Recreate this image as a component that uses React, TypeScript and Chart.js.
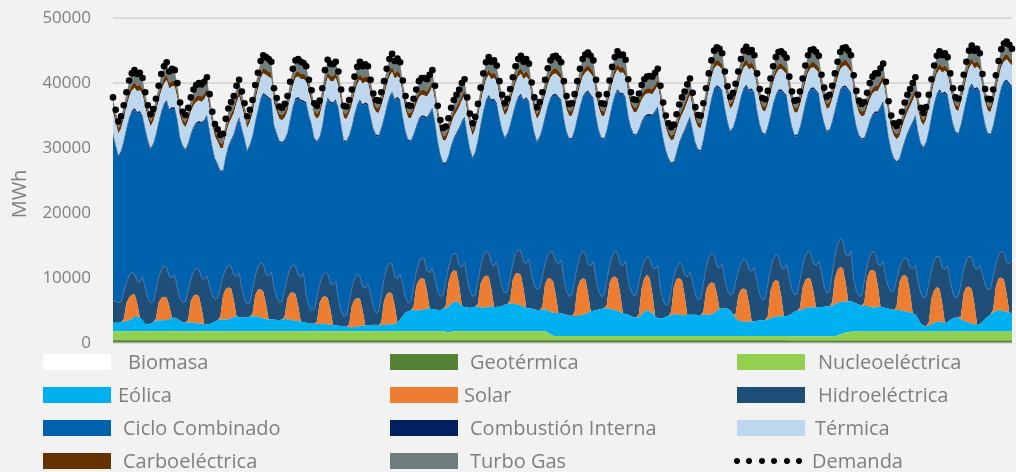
import React, { useEffect, useRef } from 'react';
import { Chart, registerables } from 'chart.js';

Chart.register(...registerables);

// 28 days, one value every 2 hours
const dayNumbers = [1,2,3,4,5,6,7,8,9,10,11,12,13,14,15,16,17,18,19,20,21,22,23,24,25,26,27,28];
const hourLabels = ['00','02','04','06','08','10','12','14','16','18','20','22'];
const yTickValues = [0, 10000, 20000, 30000, 40000, 50000];

const biomasa: number[] = [];

const geotermica = [
400,400,400,400,400,400,400,400,400,400,400,400,
400,400,400,400,400,400,400,400,400,400,400,400,
400,400,400,400,400,400,400,400,400,400,400,400,
400,400,400,400,400,400,400,400,400,400,400,400,
400,400,400,400,400,400,400,400,400,400,400,400,
400,400,400,400,400,400,400,400,400,400,400,400,
400,400,400,400,400,400,400,400,400,400,400,400,
390,390,390,390,390,390,390,390,390,390,390,390,
390,390,390,390,390,390,390,390,390,390,390,390,
390,390,390,390,390,390,390,390,390,390,390,390,
390,390,390,390,390,390,390,390,390,390,390,390,
390,390,390,390,390,390,390,390,390,390,390,390,
390,390,390,390,390,390,390,390,390,390,390,390,
390,390,390,390,390,390,390,390,390,390,390,390,
380,380,380,380,380,380,380,380,380,380,380,380,
380,380,380,380,380,380,380,380,380,380,380,380,
380,380,380,380,380,380,380,380,380,380,380,380,
380,380,380,380,380,380,380,380,380,380,380,380,
380,380,380,380,380,380,380,380,380,380,380,380,
380,380,380,380,380,380,380,380,380,380,380,380,
380,380,380,380,380,380,380,380,380,380,380,380,
370,370,370,370,370,370,370,370,370,370,370,370,
370,370,370,370,370,370,370,370,370,370,370,370,
370,370,370,370,370,370,370,370,370,370,370,370,
370,370,370,370,370,370,370,370,370,370,370,370,
370,370,370,370,370,370,370,370,370,370,370,370,
370,370,370,370,370,370,370,370,370,370,370,370,
370,370,370,370,370,370,370,370,370,370,370,370,
];

const nucleoelectrica = [
1380,1380,1380,1380,1380,1380,1380,1380,1380,1380,1380,1380,
1380,1380,1380,1380,1380,1380,1380,1380,1380,1380,1380,1380,
1380,1380,1380,1380,1380,1380,1380,1380,1380,1380,1380,1380,
1380,1380,1380,1380,1380,1380,1380,1380,1380,1380,1380,1380,
1380,1380,1380,1380,1380,1380,1380,1380,1380,1380,1380,1380,
1380,1380,1380,1380,1380,1380,1380,1380,1380,1380,1380,1380,
1380,1380,1380,1380,1380,1380,1380,1380,1380,1380,1380,1380,
1380,1380,1380,1380,1380,1380,1380,1380,1380,1380,1380,1380,
1380,1380,1380,1380,1380,1380,1380,1380,1380,1380,1380,1380,
1380,1380,1380,1380,1380,1380,1380,1380,1380,1380,1380,1380,
1380,1380,1380,1380,1300,1250,1300,1380,1380,1380,1380,1380,
1380,1380,1380,1380,1380,1380,1380,1380,1380,1380,1380,1380,
1380,1380,1380,1380,1380,1380,1380,1380,1380,1380,1380,1380,
1380,1380,1380,1380,1380,1380,1200,900,700,650,650,650,
650,650,650,650,650,650,650,650,650,650,650,650,
650,650,650,650,650,650,650,650,650,650,650,650,
650,650,650,650,650,650,650,650,650,650,650,650,
650,650,650,650,650,650,650,650,650,650,650,650,
650,650,650,650,650,650,650,650,650,650,650,650,
650,650,650,650,650,650,650,650,650,650,650,650,
650,650,650,650,650,650,650,650,650,650,650,650,
650,650,650,650,650,650,650,650,650,650,650,650,
650,650,650,650,650,650,750,900,1050,1200,1300,1350,
1380,1380,1380,1380,1380,1380,1380,1380,1380,1380,1380,1380,
1380,1380,1380,1380,1380,1380,1380,1380,1380,1380,1380,1380,
1380,1380,1380,1380,1380,1380,1380,1380,1380,1380,1380,1380,
1380,1380,1380,1380,1380,1380,1380,1380,1380,1380,1380,1380,
1380,1380,1380,1380,1380,1380,1380,1380,1380,1380,1380,1380,
];

const eolica = [
1300,1300,1300,1350,1500,1550,1700,1900,2200,2300,2100,1700,
1100,1050,1200,1400,1600,1700,1700,1700,1750,1900,2050,2100,
1900,1600,1400,1300,1300,1350,1300,1250,1200,1150,1100,1050,
1100,1300,1500,1700,1800,1800,1800,1850,1950,2200,2300,2200,
2100,2100,2200,2250,2300,2300,2250,2100,2000,1850,1800,1800,
1800,1750,1750,1800,1900,1850,1800,1700,1600,1550,1500,1400,
1300,1250,1200,1150,1100,1100,1150,1100,1050,1000,950,900,
850,800,750,700,650,600,650,700,800,850,900,950,
950,1000,1000,950,950,1000,1050,1100,1100,1150,1300,1800,
2400,2900,3100,3200,3300,3250,3200,3300,3400,3500,3500,3400,
3400,3300,3300,3400,3600,3900,4300,4500,4600,4300,3900,3700,
3700,3600,3700,3800,3800,3700,3600,3700,3800,3800,3700,3800,
3800,3900,4100,4200,4300,4300,4200,4100,4000,3800,3600,3500,
3500,3400,3300,3300,3300,3400,3450,3500,3500,3550,3550,3500,
3400,3300,3200,3100,3100,3100,3200,3300,3400,3600,3800,3900,
4000,4100,4200,4300,4300,4200,4100,4000,3900,3700,3500,3400,
3300,3100,2900,2850,2900,3300,3800,4000,3800,3500,3100,2800,
2700,2800,3000,3100,3200,3300,3400,3300,3200,3200,3300,3300,
3300,3300,3250,3250,3300,3300,3300,3350,3500,3900,4200,4300,
4300,4200,4000,3400,2800,2400,2300,2250,2200,2200,2250,2300,
2350,2400,2450,2500,2550,2700,2900,3000,3050,3050,3050,3100,
3200,3500,3800,3900,3950,4100,4300,4400,4400,4400,4450,4500,
4500,4550,4600,4600,4700,4900,5000,5000,4900,4800,4700,4700,
4500,4300,4100,4000,3900,3900,3800,3700,3700,3800,3800,3700,
3600,3500,3400,3300,3300,3300,3200,3100,3000,2900,2800,2600,
2000,1200,900,800,900,1100,1300,1500,1500,1400,1300,1400,
1800,2000,2200,2100,1900,1700,1500,1300,1200,1100,1000,1100,
1500,1900,2300,2600,2900,3100,3300,3200,3100,3000,2900,2800,
];

const solar = [
0,0,0,0,370,2780,3520,3700,3520,2040,0,0,
0,0,0,0,360,2700,3420,3600,3420,1980,0,0,
0,0,0,0,440,3300,4180,4400,4180,2420,0,0,
0,0,0,0,490,3680,4660,4900,4660,2700,0,0,
0,0,0,0,440,3260,4130,4350,4130,2390,0,0,
0,0,0,0,430,3230,4090,4300,4090,2370,0,0,
0,0,0,0,420,3250,4100,4300,4080,2360,0,0,
0,0,0,0,450,3340,4230,4450,4230,2450,0,0,
0,0,0,0,490,3680,4660,4900,4660,2700,0,0,
0,0,0,0,480,3700,4650,4900,4670,2690,0,0,
0,0,0,0,490,3660,4670,4900,4650,2710,0,0,
0,0,0,0,500,3680,4660,4900,4660,2700,0,0,
0,0,0,0,490,3690,4650,4900,4660,2680,0,0,
0,0,0,0,510,3830,4850,5100,4850,2810,0,0,
0,0,0,0,560,4200,5320,5600,5320,3080,0,0,
0,0,0,0,520,3900,4940,5200,4940,2860,0,0,
0,0,0,0,540,4050,5130,5400,5130,2970,0,0,
0,0,0,0,570,4240,5370,5650,5370,3110,0,0,
0,0,0,0,490,3680,4660,4900,4660,2700,0,0,
0,0,0,0,510,3830,4850,5100,4850,2810,0,0,
0,0,0,0,560,4250,5360,5650,5380,3100,0,0,
0,0,0,0,460,3450,4370,4600,4370,2530,0,0,
0,0,0,0,540,4050,5130,5400,5130,2970,0,0,
0,0,0,0,580,4350,5510,5800,5510,3190,0,0,
0,0,0,0,560,4200,5320,5600,5320,3080,0,0,
0,0,0,0,530,3980,5040,5300,5040,2920,0,0,
0,0,0,0,550,4210,5330,5600,5310,3090,0,0,
0,0,0,0,510,3830,4850,5100,4850,2810,0,0,
];

const hidroelectrica = [
3520,3320,3120,3210,4160,3220,3340,3420,3160,3390,5450,6720,
5530,4000,3170,3140,4390,3810,4340,4720,4680,4560,6160,6680,
4640,3460,3020,3280,4540,3370,3710,4070,4180,4670,6920,7500,
5900,4240,3420,3380,4450,2980,3140,3370,3350,3760,6160,6780,
4640,2880,2020,2160,3690,2940,3510,4070,4200,4520,6700,7330,
4940,3370,2670,2790,4120,3280,3750,4220,4360,4680,6860,7540,
4240,2670,2020,2240,3720,2830,3200,3620,3710,4030,6210,6840,
4030,2290,1570,1810,3460,2730,3200,3570,3500,3630,5770,6360,
4950,2740,1820,2100,4080,3380,4040,4520,4530,4510,6760,7030,
4750,2300,1270,1380,3010,2170,2770,3120,3050,3170,5600,6390,
4660,2890,2090,2190,3640,2350,2440,2670,2610,3200,6030,6900,
4460,2620,1690,1800,3530,2720,3370,3720,3650,3880,6400,7000,
4780,2820,1820,1920,3460,2460,3050,3570,3710,4210,6840,7610,
5280,3730,3120,3300,4680,3200,3610,4200,4470,5040,7610,8250,
5490,3650,2920,3230,4890,3530,3840,4150,4120,4430,7030,7630,
4890,2850,1920,2030,3730,2730,3320,3850,4000,4550,7330,8130,
5350,3870,3350,3580,4910,2980,2720,2850,3140,4100,7230,8130,
4650,2730,1750,1850,3260,1630,1830,2300,2490,3120,5870,6520,
5180,3160,2350,2570,4330,3520,4120,4550,4420,4180,6300,6920,
4230,2820,2380,3140,4950,3800,4060,4400,4540,5240,7780,8270,
6030,4030,3150,3310,4910,3390,3590,3900,3920,4440,7280,7920,
5850,3680,2580,2680,4300,3360,3710,4050,4080,4250,6460,7080,
5470,3100,2050,2300,4320,3340,3890,4300,4270,4310,6940,7720,
3660,1920,1290,1600,3340,1850,2320,2820,2900,3390,6300,7100,
4620,3280,2760,3010,4110,2170,2280,2620,2850,3900,6870,7580,
5730,4720,4240,4530,5980,4470,4630,4820,4890,5490,8250,8790,
5930,3920,2940,3230,4950,3650,4150,4720,4910,5630,8550,9090,
7280,5230,4120,4000,5080,3500,3580,4020,4190,4860,7530,8220,
];

const cicloCombinado = [
25350,23880,22410,23020,23120,23420,24080,24650,25240,25790,26120,24570,
24340,24150,23560,24140,23800,23760,24180,24750,25470,25480,26060,25410,
25830,24540,23910,23200,22470,22150,22050,22150,22560,23680,24250,24540,
23670,22660,21510,20500,17810,16110,17140,18150,19260,21460,23210,23710,
24330,24520,23410,24170,23520,23570,23950,25050,26090,27360,27270,26360,
24830,25180,24710,24290,22900,22010,22800,24150,25570,27220,27010,26350,
29430,29180,28410,26190,23800,22510,23000,25150,26870,27720,27810,27750,
29290,28510,26910,26570,25390,24700,25160,25950,26890,27790,28300,27480,
26970,27260,27310,26930,25630,24610,24690,25350,26330,27160,27810,26560,
25620,25400,24960,24600,23350,22270,21910,21650,21810,23350,24270,24400,
23910,22910,21640,20190,18120,17040,17040,17500,18450,20920,22140,22190,
22010,21680,21140,21880,21530,21570,22110,23050,24010,25040,25470,24090,
24090,24080,23710,24160,23400,22830,22930,23300,23950,24710,25330,24080,
23690,23270,22610,23180,22660,22440,22810,23350,24080,25650,25440,24370,
24510,24380,24140,23980,23030,22570,22810,23550,24410,26440,26170,24890,
24710,24580,24240,23880,23030,22670,23110,23850,24910,26040,26370,24990,
25050,24960,24710,24380,23330,22470,21920,21650,21880,23280,24070,24190,
25350,24800,23710,22260,19450,17530,17570,18350,19590,22120,23430,23800,
23120,23170,22960,22590,22060,21800,22390,23600,25270,27570,27600,26300,
26370,25810,24980,25370,24920,24870,25460,26150,26860,27400,27870,26650,
26220,26000,25560,25100,24050,23470,23710,24350,25310,27150,26970,25800,
25050,24850,24380,24230,23270,22890,23290,24150,25100,26870,26690,25540,
24430,24980,24710,24710,23320,22310,22150,22750,23550,25720,25510,24100,
25410,25180,24640,23880,21830,20770,20610,20850,21510,23240,24270,24390,
24350,23020,21570,20170,17980,16700,17040,17850,19150,21340,22400,22910,
22840,22880,22990,23650,23340,23420,23970,24750,25590,26610,27120,26000,
26140,25880,25390,24950,24340,24120,24570,25550,26490,27310,27820,26600,
24990,24570,23910,23580,23060,23140,23910,25050,26080,27850,27540,26470,
];

const combustionInterna = [
250,240,230,230,240,250,260,270,270,270,270,260,
250,240,230,230,240,250,260,270,270,270,270,260,
250,240,230,230,230,240,250,260,260,260,270,260,
250,240,230,220,220,230,240,250,260,260,270,260,
250,240,230,230,240,250,260,270,270,270,270,260,
250,240,230,230,240,250,260,270,270,270,270,260,
260,250,240,230,240,250,260,270,270,270,270,260,
260,250,240,230,240,250,260,270,270,270,270,260,
250,240,230,230,240,250,260,270,270,270,270,260,
250,240,230,230,230,240,250,260,260,260,270,260,
250,240,230,220,220,230,240,250,260,260,270,260,
250,240,230,230,240,250,260,270,270,270,270,260,
250,240,230,230,240,250,260,270,270,270,270,260,
250,240,230,230,240,250,260,270,280,280,270,260,
250,240,230,230,240,250,260,270,280,280,270,260,
250,240,230,230,240,250,260,270,280,280,270,260,
250,240,230,230,230,240,250,260,260,260,270,260,
250,240,230,220,220,230,240,250,260,260,270,260,
250,240,230,230,240,250,260,270,280,280,280,270,
260,250,240,240,250,260,270,280,280,280,280,270,
260,250,240,240,250,260,270,280,280,280,280,270,
260,250,240,240,250,260,270,280,280,280,280,270,
260,250,240,240,250,260,270,280,280,280,280,270,
260,250,240,230,230,240,250,260,260,260,270,260,
250,240,230,220,220,230,240,250,260,260,270,260,
250,240,230,230,240,250,260,270,280,280,280,270,
260,250,240,240,250,260,270,280,280,280,280,270,
260,250,240,240,250,260,270,280,290,290,280,270,
];

const termica = [
3300,3350,3400,3400,3350,3250,3150,3100,3100,3150,3200,3250,
3300,3350,3400,3400,3350,3250,3150,3100,3100,3150,3200,3250,
3250,3300,3350,3400,3400,3350,3250,3200,3150,3150,3200,3250,
3250,3300,3350,3400,3450,3400,3300,3250,3200,3150,3200,3250,
3300,3350,3400,3400,3350,3250,3150,3100,3050,3100,3150,3200,
3250,3300,3350,3400,3350,3250,3150,3100,3100,3150,3200,3250,
3300,3350,3400,3450,3400,3300,3200,3100,3100,3150,3200,3250,
3300,3350,3400,3400,3350,3250,3150,3100,3100,3150,3200,3250,
3300,3350,3400,3400,3350,3250,3150,3100,3050,3100,3150,3200,
3250,3300,3350,3400,3400,3350,3250,3200,3150,3150,3200,3250,
3250,3300,3350,3400,3450,3400,3300,3250,3200,3150,3200,3250,
3300,3350,3400,3400,3350,3250,3150,3100,3100,3150,3200,3250,
3300,3350,3400,3400,3350,3250,3150,3100,3100,3150,3200,3250,
3300,3350,3400,3400,3350,3250,3150,3100,3050,3100,3150,3200,
3300,3350,3400,3400,3350,3250,3150,3100,3050,3100,3150,3200,
3300,3350,3400,3400,3350,3250,3150,3100,3050,3100,3150,3200,
3250,3300,3350,3400,3400,3350,3250,3200,3150,3150,3200,3250,
3250,3300,3350,3400,3450,3400,3300,3250,3200,3150,3200,3250,
3300,3350,3400,3400,3350,3250,3150,3100,3050,3100,3150,3200,
3300,3350,3400,3400,3350,3250,3150,3100,3050,3100,3150,3200,
3300,3350,3400,3400,3350,3250,3150,3100,3100,3150,3200,3250,
3300,3350,3400,3400,3350,3250,3150,3100,3050,3100,3150,3200,
3300,3350,3400,3400,3350,3250,3150,3100,3050,3100,3150,3200,
3250,3300,3350,3400,3400,3350,3250,3200,3150,3150,3200,3250,
3250,3300,3350,3400,3450,3400,3300,3250,3200,3150,3200,3250,
3300,3350,3400,3400,3350,3250,3150,3100,3100,3150,3200,3250,
3300,3350,3400,3400,3350,3250,3150,3100,3050,3100,3150,3200,
3300,3350,3400,3400,3350,3250,3150,3100,3050,3100,3150,3200,
];

const carboelectrica = [
800,780,760,760,780,800,820,830,830,830,830,820,
800,780,760,760,780,800,820,830,830,830,830,820,
800,780,760,760,770,780,800,810,820,820,830,820,
800,780,760,750,750,760,780,800,810,820,830,820,
800,780,760,760,780,800,820,830,840,840,830,820,
800,780,760,760,780,800,820,830,830,830,830,820,
810,790,770,760,780,800,820,830,830,830,830,820,
810,790,770,760,780,800,820,830,830,830,830,820,
800,780,760,760,780,800,820,830,840,840,830,820,
800,780,760,760,770,780,800,810,820,820,830,820,
800,780,760,750,750,760,780,800,810,820,830,820,
800,780,760,760,780,800,820,830,840,840,830,820,
800,780,760,760,780,800,820,830,840,840,830,820,
800,780,760,760,780,800,820,830,840,840,830,820,
800,780,760,760,780,800,820,830,840,840,830,820,
800,780,760,760,780,800,820,830,840,840,830,820,
800,780,760,760,770,780,800,810,820,820,830,820,
800,780,760,750,750,760,780,800,810,820,830,820,
800,780,760,760,780,800,820,830,840,840,830,820,
810,790,770,770,790,810,830,840,850,850,840,830,
810,790,770,770,790,810,830,840,850,850,840,830,
810,790,770,770,790,810,830,840,850,850,840,830,
810,790,770,770,790,810,830,840,850,850,840,830,
800,780,760,760,770,780,800,810,820,820,830,820,
800,780,760,750,750,760,780,800,810,820,830,820,
800,780,760,760,780,800,820,830,840,840,830,820,
810,790,770,770,790,810,830,840,850,850,840,830,
810,790,770,770,790,810,830,840,850,850,840,830,
];

const turboGas = [
1300,1050,900,950,1100,1350,1550,1650,1700,1650,1650,1500,
1350,1100,950,1000,1150,1400,1600,1700,1750,1650,1700,1550,
1300,1000,850,850,900,1050,1200,1300,1350,1400,1500,1500,
1250,1000,850,800,800,900,1050,1200,1300,1400,1500,1550,
1300,1050,900,950,1100,1400,1600,1750,1800,1750,1700,1600,
1350,1100,950,950,1050,1300,1550,1700,1750,1750,1700,1600,
1500,1250,1050,950,1000,1250,1500,1650,1700,1650,1650,1600,
1450,1200,1000,950,1050,1300,1500,1650,1700,1650,1650,1550,
1400,1150,1000,950,1100,1350,1550,1700,1750,1650,1700,1600,
1350,1100,950,900,950,1100,1250,1350,1400,1400,1500,1550,
1300,1050,900,850,850,950,1100,1250,1300,1400,1500,1550,
1250,1000,850,900,1100,1350,1550,1700,1750,1700,1700,1600,
1400,1150,1000,1000,1150,1400,1600,1700,1750,1650,1700,1600,
1400,1150,950,1000,1150,1400,1600,1750,1800,1800,1750,1650,
1400,1150,1000,1000,1150,1450,1650,1800,1850,1850,1800,1650,
1450,1200,1000,1000,1150,1450,1650,1800,1850,1800,1800,1650,
1400,1150,1000,950,1000,1150,1250,1350,1400,1400,1500,1550,
1300,1050,900,850,850,950,1100,1250,1350,1400,1500,1550,
1300,1050,900,900,1100,1400,1600,1750,1850,1850,1850,1700,
1500,1250,1050,1100,1250,1450,1650,1800,1850,1800,1800,1650,
1450,1200,1050,1000,1150,1400,1600,1750,1800,1800,1750,1650,
1450,1200,1050,1000,1150,1450,1650,1800,1850,1850,1800,1700,
1450,1200,1050,1050,1200,1450,1650,1800,1850,1850,1800,1700,
1400,1150,1000,950,950,1100,1250,1350,1400,1450,1550,1600,
1350,1050,900,850,850,950,1100,1250,1350,1400,1500,1600,
1300,1050,950,1000,1150,1400,1600,1750,1800,1750,1750,1650,
1450,1200,1050,1050,1200,1450,1650,1800,1900,1850,1800,1700,
1450,1200,1050,1050,1200,1450,1700,1850,1950,1950,1850,1750,
];

const demanda = [
37800,35900,34100,34900,36600,38600,40400,41500,42000,41400,41600,40800,
38600,36600,35200,36000,37600,39600,41400,42600,43200,41800,42200,42000,
40000,37000,35600,35100,36200,37800,39000,39700,40000,39800,40200,40900,
38300,35600,33700,32900,32000,32200,34500,36100,37100,38000,39600,40500,
38700,36900,34900,35900,37400,39700,41600,43400,44300,44000,43700,43300,
39200,37700,36400,36200,36800,38000,40200,42200,43500,43700,43300,43100,
42600,40500,38900,36900,36500,37300,39200,42000,43600,43000,42900,43300,
41800,39000,36500,36400,37400,39000,41000,42500,43300,42600,42900,42600,
40500,38400,37400,37300,38600,40300,42200,43700,44500,43400,43800,43200,
40400,38000,36600,36500,37600,39000,40300,40800,40800,40600,41300,42000,
39600,36500,34300,33100,33300,34600,36200,37400,38200,39000,40000,40600,
37800,35300,33800,34800,36800,39300,41500,43200,44000,43300,43500,42700,
40300,38200,36900,37600,39100,40900,42600,43700,44200,43300,43700,43000,
40100,37800,36300,37100,38600,40500,42300,43500,44100,44200,43800,43200,
40300,38000,36800,36900,38300,40300,42200,43700,44400,44700,44200,43500,
40500,38200,36900,36800,38300,40400,42500,44000,44900,44300,44400,43600,
40600,38600,37500,37400,38400,39700,40600,41000,41100,41000,41600,42200,
39600,37000,35000,33800,33200,33600,35200,36700,37800,38700,39800,40700,
38500,36300,35100,35000,36900,39200,41500,43500,45000,45500,45300,44600,
41800,39500,37900,38500,39900,41800,43700,45000,45600,44800,45100,44300,
41500,39100,37700,37500,38800,40700,42600,44000,44800,44900,44500,43900,
41000,38700,37300,37400,38700,40700,42700,44300,45100,45200,44800,44200,
41300,39300,37900,38200,39600,41500,43300,44800,45400,45500,45000,44300,
41200,38800,37300,36800,37100,38500,40000,41000,41500,41500,42300,43000,
40200,37200,35000,33800,33400,34000,35600,37000,38200,39100,40000,40900,
38200,36200,35400,36300,38200,40600,42700,44200,44900,44300,44600,44000,
41500,39200,37800,37600,39200,41300,43300,45000,45800,45000,45300,44600,
41400,39100,37600,37500,39000,41200,43400,45200,46100,46400,45900,45300,
];

const labels = dayNumbers.flatMap((d) => hourLabels.map((h) => `${d} ${h}h`));

const layers = [
  { label: 'Biomasa', data: biomasa, color: '#ffffff' },
  { label: 'Geotérmica', data: geotermica, color: '#548235' },
  { label: 'Nucleoeléctrica', data: nucleoelectrica, color: '#92d050' },
  { label: 'Eólica', data: eolica, color: '#00b0f0' },
  { label: 'Solar', data: solar, color: '#ed7d31' },
  { label: 'Hidroeléctrica', data: hidroelectrica, color: '#1f4e79' },
  { label: 'Ciclo Combinado', data: cicloCombinado, color: '#0062ad' },
  { label: 'Combustión Interna', data: combustionInterna, color: '#002060' },
  { label: 'Térmica', data: termica, color: '#bdd7ee' },
  { label: 'Carboeléctrica', data: carboelectrica, color: '#663300' },
  { label: 'Turbo Gas', data: turboGas, color: '#6e7e7e' },
];

const legendLayout = [
  { label: 'Biomasa', color: '#ffffff', box: 43, text: 128, row: 0 },
  { label: 'Geotérmica', color: '#548235', box: 390, text: 470, row: 0 },
  { label: 'Nucleoeléctrica', color: '#92d050', box: 737, text: 818, row: 0 },
  { label: 'Eólica', color: '#00b0f0', box: 43, text: 118, row: 1 },
  { label: 'Solar', color: '#ed7d31', box: 390, text: 464, row: 1 },
  { label: 'Hidroeléctrica', color: '#1f4e79', box: 737, text: 818, row: 1 },
  { label: 'Ciclo Combinado', color: '#0062ad', box: 43, text: 123, row: 2 },
  { label: 'Combustión Interna', color: '#002060', box: 390, text: 470, row: 2 },
  { label: 'Térmica', color: '#bdd7ee', box: 737, text: 815, row: 2 },
  { label: 'Carboeléctrica', color: '#663300', box: 43, text: 123, row: 3 },
  { label: 'Turbo Gas', color: '#6e7e7e', box: 390, text: 470, row: 3 },
];

const FONT = '"Open Sans", "DejaVu Sans", sans-serif';
const CANVAS_SHIFT = 14; // canvas is raised so the plot top sits at the 50000 line position

const yTitlePlugin = {
  id: 'yTitleMWh',
  afterDraw(chart: any) {
    const ctx = chart.ctx as CanvasRenderingContext2D;
    ctx.save();
    ctx.translate(20, 194 + CANVAS_SHIFT);
    ctx.rotate(-Math.PI / 2);
    ctx.font = `20px ${FONT}`;
    ctx.fillStyle = '#808080';
    ctx.textAlign = 'center';
    ctx.textBaseline = 'middle';
    ctx.fillText('MWh', 0, 0);
    ctx.restore();
  },
};

export default function App() {
  const canvasRef = useRef<HTMLCanvasElement>(null);

  useEffect(() => {
    if (!canvasRef.current) return;
    const datasets: any[] = layers.map((l, i) => ({
      label: l.label,
      data: l.data,
      backgroundColor: l.color,
      borderColor: l.label === 'Hidroeléctrica' ? '#3f77ad' : l.color,
      borderWidth: l.label === 'Hidroeléctrica' ? 1 : 0,
      pointRadius: 0,
      tension: 0,
      fill: i === 0 ? false : i === 1 ? 'origin' : '-1',
      stack: 'gen',
      order: 1,
    }));
    datasets.push({
      label: 'Demanda',
      data: demanda,
      showLine: false,
      pointRadius: 3.3,
      pointBackgroundColor: '#000000',
      pointBorderWidth: 0,
      pointBorderColor: '#000000',
      fill: false,
      stack: 'dem',
      order: 0,
      clip: false,
    });

    const chart = new Chart(canvasRef.current, {
      type: 'line',
      data: { labels, datasets },
      options: {
        animation: false,
        responsive: false,
        devicePixelRatio: 1,
        layout: { padding: { top: 18, bottom: 12, left: 0, right: 0 } },
        plugins: {
          legend: { display: false },
          tooltip: { enabled: false },
        },
        scales: {
          x: { display: false, offset: false },
          y: {
            stacked: true,
            min: yTickValues[0],
            max: yTickValues[yTickValues.length - 1],
            afterBuildTicks: (scale: any) => {
              scale.ticks = yTickValues.map((v) => ({ value: v }));
            },
            ticks: {
              padding: 22,
              color: '#808080',
              font: { family: FONT, size: 17 },
              callback: (v: any) => String(v),
            },
            grid: { color: '#d9d9d9', lineWidth: 2, drawTicks: false },
            border: { display: false },
            afterFit: (scale: any) => {
              scale.width = 113;
            },
          },
        },
      } as any,
      plugins: [yTitlePlugin],
    });
    return () => chart.destroy();
  }, []);

  const rowCenter = (r: number) => 362 + r * 33;

  return (
    <div
      style={{
        position: 'absolute',
        left: 0,
        top: 0,
        width: 1016,
        height: 472,
        background: '#f2f2f2',
        overflow: 'hidden',
        fontFamily: FONT,
      }}
    >
      <canvas
        ref={canvasRef}
        width={1016}
        height={389}
        style={{ position: 'absolute', left: 0, top: -CANVAS_SHIFT }}
      />
      {legendLayout.map((it) => (
        <React.Fragment key={it.label}>
          <div
            style={{
              position: 'absolute',
              left: it.box,
              top: rowCenter(it.row) - 8,
              width: 68,
              height: 16,
              background: it.color,
            }}
          />
          <div
            style={{
              position: 'absolute',
              left: it.text,
              top: rowCenter(it.row) - 13,
              height: 26,
              lineHeight: '26px',
              fontSize: 20,
              color: '#7f7f7f',
              whiteSpace: 'nowrap',
            }}
          >
            {it.label}
          </div>
        </React.Fragment>
      ))}
      {[0, 1, 2, 3, 4, 5].map((j) => (
        <div
          key={j}
          style={{
            position: 'absolute',
            left: 734 + j * 12.4,
            top: rowCenter(3) - 3,
            width: 6,
            height: 6,
            borderRadius: 3,
            background: '#000000',
          }}
        />
      ))}
      <div
        style={{
          position: 'absolute',
          left: 812,
          top: rowCenter(3) - 13,
          height: 26,
          lineHeight: '26px',
          fontSize: 20,
          color: '#7f7f7f',
          whiteSpace: 'nowrap',
        }}
      >
        Demanda
      </div>
    </div>
  );
}
